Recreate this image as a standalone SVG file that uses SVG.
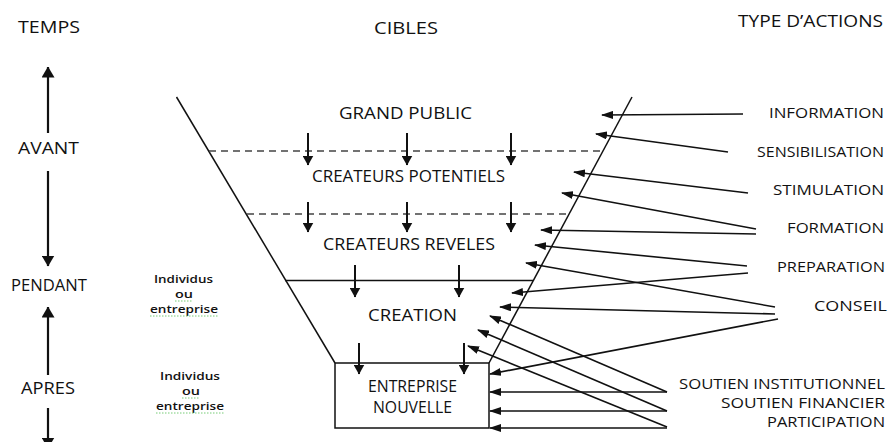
<svg xmlns="http://www.w3.org/2000/svg" width="889" height="442" viewBox="0 0 889 442">
<style>
text{font-family:"Open Sans","Noto Sans","Liberation Sans",sans-serif;fill:#111}
.t{font-size:17px}
.c{font-size:16px}
.r{font-size:15px}
.s{font-size:11.5px;font-weight:600}
.ln{stroke:#111;stroke-width:1.5;fill:none}
.ar{stroke:#111;stroke-width:1.6;fill:none;marker-end:url(#ah)}
.dn{stroke:#111;stroke-width:2;fill:none;marker-end:url(#dh)}
.tm{stroke:#111;stroke-width:2.2;fill:none;marker-end:url(#th)}
.dash{stroke:#444;stroke-width:1.3;stroke-dasharray:7,5;fill:none}
.sq{stroke:#7c7;stroke-width:1;stroke-dasharray:1.5,1.5;fill:none}
</style>
<defs>
<marker id="ah" viewBox="0 0 12 8" refX="11" refY="4" markerWidth="12" markerHeight="8" markerUnits="userSpaceOnUse" orient="auto"><path d="M0,0 L12,4 L0,8 z" fill="#111"/></marker>
<marker id="dh" viewBox="0 0 10 11" refX="9.5" refY="5.5" markerWidth="10" markerHeight="11" markerUnits="userSpaceOnUse" orient="auto"><path d="M0,0 L10,5.5 L0,11 z" fill="#111"/></marker>
<marker id="th" viewBox="0 0 11 13" refX="10.5" refY="6.5" markerWidth="11" markerHeight="13" markerUnits="userSpaceOnUse" orient="auto"><path d="M0,0 L11,6.5 L0,13 z" fill="#111"/></marker>
</defs>

<g id="headers">
<text class="t" x="18" y="33" textLength="62" lengthAdjust="spacingAndGlyphs">TEMPS</text>
<text class="t" x="374" y="34" textLength="64" lengthAdjust="spacingAndGlyphs">CIBLES</text>
<text class="t" x="738" y="27" textLength="145" lengthAdjust="spacingAndGlyphs">TYPE  D’ACTIONS</text>
</g>

<g id="temps">
<text class="t" x="18" y="154" textLength="61" lengthAdjust="spacingAndGlyphs">AVANT</text>
<text class="t" x="11" y="291" textLength="76" lengthAdjust="spacingAndGlyphs">PENDANT</text>
<text class="t" x="21" y="394" textLength="54" lengthAdjust="spacingAndGlyphs">APRES</text>
</g>

<g id="individus1">
<text class="s" x="154" y="283" textLength="59" lengthAdjust="spacingAndGlyphs">Individus</text>
<text class="s" x="175" y="298" textLength="18" lengthAdjust="spacingAndGlyphs">ou</text>
<text class="s" x="150" y="313" textLength="68" lengthAdjust="spacingAndGlyphs">entreprise</text>
<path class="sq" d="M175,301 H193 M150,316 H218"/>
</g>
<g id="individus2">
<text class="s" x="160" y="380" textLength="60" lengthAdjust="spacingAndGlyphs">Individus</text>
<text class="s" x="182" y="395" textLength="18" lengthAdjust="spacingAndGlyphs">ou</text>
<text class="s" x="156" y="410" textLength="68" lengthAdjust="spacingAndGlyphs">entreprise</text>
<path class="sq" d="M182,398 H200 M156,413 H224"/>
</g>

<g id="funnel">
<path class="ln" d="M176.5,97 L335,363"/>
<path class="ln" d="M632,97 L489,363"/>
<rect x="335" y="363" width="154" height="65" class="ln"/>
<path class="dash" d="M209,151 H603"/>
<path class="dash" d="M247,214 H567"/>
<path class="ln" d="M285,280.5 H533"/>
</g>

<g id="grand-public"><text class="t" x="339" y="119" textLength="133" lengthAdjust="spacingAndGlyphs">GRAND  PUBLIC</text></g>
<g id="createurs-potentiels"><text class="c" x="312" y="182" textLength="193" lengthAdjust="spacingAndGlyphs">CREATEURS  POTENTIELS</text></g>
<g id="createurs-reveles"><text class="c" x="323" y="250" textLength="172" lengthAdjust="spacingAndGlyphs">CREATEURS REVELES</text></g>
<g id="creation"><text class="c" x="368" y="321" textLength="89" lengthAdjust="spacingAndGlyphs">CREATION</text></g>
<g id="entreprise-nouvelle">
<text class="c" x="368" y="392" textLength="89" lengthAdjust="spacingAndGlyphs">ENTREPRISE</text>
<text class="c" x="373" y="413" textLength="79" lengthAdjust="spacingAndGlyphs">NOUVELLE</text>
</g>

<g id="actions">
<text class="r" x="769" y="118" textLength="115" lengthAdjust="spacingAndGlyphs">INFORMATION</text>
<text class="r" x="757" y="157" textLength="127" lengthAdjust="spacingAndGlyphs">SENSIBILISATION</text>
<text class="r" x="773" y="195" textLength="111" lengthAdjust="spacingAndGlyphs">STIMULATION</text>
<text class="r" x="787" y="233" textLength="97" lengthAdjust="spacingAndGlyphs">FORMATION</text>
<text class="r" x="777" y="272" textLength="108" lengthAdjust="spacingAndGlyphs">PREPARATION</text>
<text class="r" x="814" y="311" textLength="73" lengthAdjust="spacingAndGlyphs">CONSEIL</text>
<text class="r" x="679" y="389" textLength="206" lengthAdjust="spacingAndGlyphs">SOUTIEN  INSTITUTIONNEL</text>
<text class="r" x="721" y="408" textLength="164" lengthAdjust="spacingAndGlyphs">SOUTIEN FINANCIER</text>
<text class="r" x="767" y="427" textLength="118" lengthAdjust="spacingAndGlyphs">PARTICIPATION</text>
</g>

<g id="connectors">
<path class="tm" d="M48,133 V67"/>
<path class="tm" d="M48,171 V266"/>
<path class="tm" d="M48,375 V307"/>
<path class="tm" d="M48,408 V448"/>

<path class="dn" d="M308,133 V165"/>
<path class="dn" d="M407,133 V165"/>
<path class="dn" d="M511,133 V165"/>
<path class="dn" d="M308,202 V232"/>
<path class="dn" d="M407,202 V232"/>
<path class="dn" d="M511,202 V232"/>
<path class="dn" d="M355,265 V297"/>
<path class="dn" d="M459,265 V297"/>
<path class="dn" d="M359,343 V374"/>
<path class="dn" d="M464,343 V374"/>

<path class="ar" d="M743,114 L602,115"/>
<path class="ar" d="M728,152 L596,134"/>
<path class="ar" d="M748,193 L574,172"/>
<path class="ar" d="M756,229 L562,193"/>
<path class="ar" d="M756,234 L541,230"/>
<path class="ar" d="M747,266 L535,245"/>
<path class="ar" d="M748,273 L512,293"/>
<path class="ar" d="M775,307 L526,263"/>
<path class="ar" d="M775,314 L500,307"/>
<path class="ar" d="M778,319 L490,374"/>
<path class="ar" d="M667,392 L490,316"/>
<path class="ar" d="M667,411 L478,330"/>
<path class="ar" d="M667,427 L468,346"/>
<path class="ar" d="M667,392 L490,392"/>
<path class="ar" d="M667,411 L490,411"/>
<path class="ar" d="M667,428 L490,428"/>
</g>
</svg>
